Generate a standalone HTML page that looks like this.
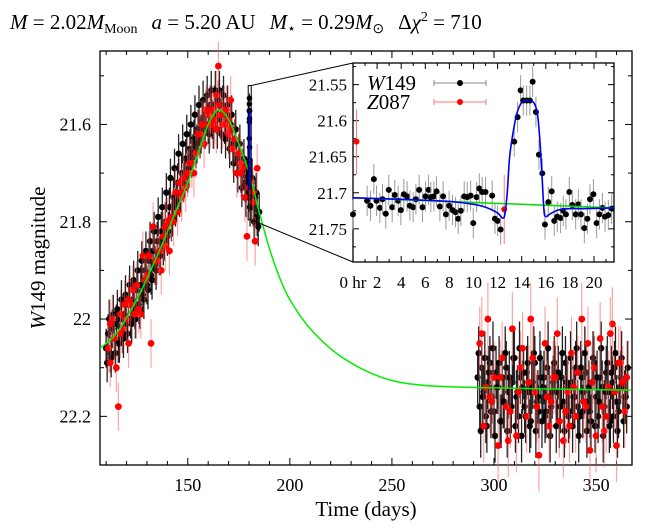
<!DOCTYPE html>
<html><head><meta charset="utf-8"><style>
body{margin:0;background:#fff;}
svg{display:block;font-family:"Liberation Serif",serif;}
</style></head><body>
<svg id="chart" width="666" height="528" viewBox="0 0 666 528">
<text x="10" y="29" font-size="21"><tspan font-style="italic">M</tspan> = 2.02<tspan font-style="italic">M</tspan><tspan font-size="14" dy="4">Moon</tspan><tspan dy="-4" dx="14" font-style="italic">a</tspan> = 5.20 AU<tspan dx="14" font-style="italic">M</tspan><tspan font-size="14" dy="4">⋆</tspan><tspan dy="-4"> = 0.29</tspan><tspan font-style="italic">M</tspan><tspan font-size="14" dy="4">⊙</tspan><tspan dy="-4" dx="14">Δ</tspan><tspan font-style="italic">χ</tspan><tspan font-size="14" dy="-8">2</tspan><tspan dy="8"> = 710</tspan></text>
<text x="366" y="516" font-size="21" text-anchor="middle">Time (days)</text>
<text transform="translate(45,258) rotate(-90)" font-size="21" text-anchor="middle"><tspan font-style="italic">W</tspan>149 magnitude</text>
<g id="main"></g>
<g id="inset"></g>
</svg>
<script>
// ===== main panel data =====
const riseT=[110,111,112,113,114,115,116,117,118,119,120,121,122,123,124,125,126,127,128,129,130,131,132,133,134,135,136,137,138,139,140,141,142,143,144,145,146,147,148,149,150,151,152,153,154,155,156,157,158,159,160,161,162,163,164,165,166,167,168,169,170,171,172,173,174,175,176,177,178,179,180,181,182,183,184,185];
const riseM=[22.06,22.03,22.07,22.02,22.04,22.01,22.05,22.00,22.03,21.99,22.01,21.97,22.00,21.96,21.98,21.94,21.97,21.93,21.95,21.90,21.93,21.88,21.91,21.86,21.89,21.84,21.87,21.82,21.85,21.80,21.83,21.77,21.80,21.75,21.77,21.72,21.75,21.70,21.72,21.67,21.70,21.65,21.67,21.63,21.65,21.61,21.63,21.59,21.61,21.57,21.60,21.56,21.59,21.56,21.58,21.55,21.59,21.56,21.60,21.58,21.62,21.60,21.64,21.63,21.67,21.66,21.70,21.69,21.72,21.71,21.74,21.73,21.77,21.75,21.79,21.78];
const rise2T=[110.5,111.5,112.5,113.5,114.5,115.5,116.5,117.5,118.5,119.5,120.5,121.5,122.5,123.5,124.5,125.5,126.5,127.5,128.5,129.5,130.5,131.5,132.5,133.5,134.5,135.5,136.5,137.5,138.5,139.5,140.5,141.5,142.5,143.5,144.5,145.5,146.5,147.5,148.5,149.5,150.5,151.5,152.5,153.5,154.5,155.5,156.5,157.5,158.5,159.5,160.5,161.5,162.5,163.5,164.5,165.5,166.5,167.5,168.5,169.5,170.5,171.5,172.5,173.5,174.5,175.5,176.5,177.5,178.5,179.5,180.5,181.5,182.5,183.5,184.5];
const rise2M=[22.09,22.00,22.08,21.99,22.07,21.98,22.05,21.96,22.04,21.95,22.03,21.93,22.01,21.92,22.00,21.90,21.98,21.88,21.96,21.86,21.94,21.84,21.92,21.82,21.90,21.79,21.87,21.77,21.84,21.74,21.82,21.71,21.79,21.69,21.76,21.66,21.74,21.64,21.71,21.62,21.69,21.60,21.66,21.58,21.64,21.56,21.62,21.55,21.61,21.54,21.62,21.53,21.61,21.53,21.61,21.53,21.62,21.54,21.63,21.56,21.65,21.58,21.68,21.61,21.70,21.64,21.73,21.67,21.75,21.69,21.77,21.71,21.80,21.74,21.81];
const redT=[111,112,113,115,116,118,120,121,123,125,127,128,130,132,133,135,137,139,141,143,145,147,149,150,152,154,156,158,160,161,162,163,164,165,166,167,168,169,170,171,172,174,176,178,179,181,182,183,184,126,144,153,175,157];
const redM=[22.06,22.09,22.00,22.10,22.18,22.02,22.00,22.05,21.94,21.93,21.99,21.87,21.91,22.05,21.81,21.88,21.90,21.85,21.86,21.80,21.78,21.75,21.73,21.70,21.68,21.66,21.62,21.64,21.58,21.60,21.57,21.60,21.54,21.48,21.58,21.60,21.57,21.60,21.62,21.55,21.65,21.70,21.68,21.75,21.83,21.72,21.76,21.84,21.69,21.98,21.74,21.70,21.66,21.60];
const red2T=[112,114,117,119,122,124,129,131,134,136,138,140,142,146,148,151,155,159,161,163,165,167,169,171,173,177,180,182,117,121,139,147,158,164,170,176];
const red2M=[22.01,22.04,21.99,21.97,21.97,21.99,21.92,21.87,21.88,21.86,21.83,21.80,21.79,21.72,21.71,21.68,21.62,21.57,21.57,21.59,21.56,21.58,21.57,21.61,21.63,21.69,21.73,21.74,22.03,21.96,21.81,21.74,21.60,21.61,21.59,21.70];
const lateT=[292,293,294,295,296,297,298,299,300,301,302,303,304,305,306,307,308,309,310,311,312,313,314,315,316,317,318,319,320,321,322,323,324,325,326,327,328,329,330,331,332,333,334,335,336,337,338,339,340,341,342,343,344,345,346,347,348,349,350,351,352,353,354,355,356,357,358,359,360,361,362,363,364,365];
const lateM=[22.12,22.18,22.10,22.15,22.20,22.13,22.09,22.16,22.19,22.11,22.14,22.21,22.12,22.17,22.10,22.15,22.19,22.13,22.08,22.16,22.20,22.12,22.14,22.18,22.11,22.15,22.21,22.13,22.09,22.17,22.19,22.12,22.14,22.20,22.10,22.16,22.18,22.13,22.11,22.15,22.21,22.12,22.17,22.09,22.14,22.19,22.13,22.16,22.10,22.18,22.20,22.12,22.15,22.11,22.17,22.19,22.13,22.09,22.16,22.20,22.12,22.14,22.18,22.11,22.15,22.21,22.13,22.10,22.17,22.19,22.12,22.14,22.16,22.18];
const late2T=[292.5,293.5,294.5,295.5,296.5,297.5,298.5,299.5,300.5,301.5,302.5,303.5,304.5,305.5,306.5,307.5,308.5,309.5,310.5,311.5,312.5,313.5,314.5,315.5,316.5,317.5,318.5,319.5,320.5,321.5,322.5,323.5,324.5,325.5,326.5,327.5,328.5,329.5,330.5,331.5,332.5,333.5,334.5,335.5,336.5,337.5,338.5,339.5,340.5,341.5,342.5,343.5,344.5,345.5,346.5,347.5,348.5,349.5,350.5,351.5,352.5,353.5,354.5,355.5,356.5,357.5,358.5,359.5,360.5,361.5,362.5,363.5,364.5,365.5];
const late2M=[22.07,22.23,22.16,22.08,22.22,22.11,22.19,22.06,22.24,22.14,22.09,22.21,22.17,22.07,22.23,22.12,22.18,22.08,22.22,22.15,22.06,22.24,22.11,22.20,22.09,22.22,22.14,22.07,22.23,22.16,22.08,22.21,22.12,22.19,22.06,22.24,22.15,22.09,22.22,22.11,22.18,22.07,22.23,22.13,22.20,22.08,22.22,22.16,22.06,22.24,22.10,22.19,22.07,22.23,22.14,22.21,22.08,22.22,22.12,22.17,22.06,22.24,22.15,22.09,22.22,22.11,22.20,22.07,22.23,22.14,22.08,22.21,22.16,22.10];
const lateRedT=[293,295,297,300,302,304,306,309,311,313,316,318,320,322,325,327,329,331,334,336,338,340,343,345,347,349,352,354,356,358,360,362,364,298,314,332,341,350,357,363,294,307,319,328,337,346,355,361];
const lateRedM=[22.05,22.22,22.00,22.12,22.26,22.08,22.18,22.02,22.24,22.10,22.20,22.00,22.15,22.28,22.05,22.22,22.12,22.03,22.25,22.15,22.07,22.20,22.00,22.18,22.27,22.10,22.04,22.23,22.14,22.01,22.26,22.09,22.19,22.16,22.06,22.21,22.11,22.24,22.03,22.13,22.03,22.25,22.08,22.17,22.22,22.05,22.20,22.09];
const lateRed2T=[296,299,303,308,312,317,321,326,330,335,339,344,348,353,359,365];
const lateRed2M=[22.14,22.17,22.12,22.19,22.15,22.13,22.18,22.16,22.12,22.19,22.14,22.17,22.13,22.18,22.15,22.12];
const modelT=[107,115,125,135,145,150,155,160,165,170,175,180,185,190,195,200,210,225,245,265,295,330,367];
const modelM=[22.06,22.03,21.96,21.87,21.77,21.72,21.66,21.60,21.57,21.59,21.64,21.70,21.78,21.855,21.915,21.96,22.02,22.077,22.12,22.136,22.141,22.144,22.146];
const xTicks=[150,200,250,300,350];
const yTicks=[21.6,21.8,22,22.2];
const yTickLabels=["21.6","21.8","22","22.2"];
// ===== inset data (hours) =====
const inHr=[0.0,1.17,1.45,1.73,1.95,2.23,2.45,2.72,2.97,3.25,3.47,3.75,3.97,4.22,4.49,4.72,4.99,5.22,5.49,5.77,6.02,6.27,6.46,6.71,6.93,7.21,7.48,7.71,7.98,8.26,8.51,8.73,8.95,9.23,9.48,9.76,9.98,10.26,10.48,10.72,11.0,11.55,11.78,12.0,12.25,13.38,13.66,13.91,14.13,14.41,14.68,14.91,15.18,15.43,15.71,15.93,16.21,16.49,16.7,16.95,17.23,17.45,17.67,17.95,18.2,18.48,18.7,18.92,19.2,19.45,19.67,19.95,20.22,20.45,20.7,20.92,21.19,21.47];
const inMag=[21.730,21.711,21.718,21.681,21.711,21.721,21.709,21.729,21.696,21.720,21.703,21.711,21.724,21.702,21.705,21.718,21.720,21.709,21.696,21.720,21.705,21.696,21.706,21.705,21.698,21.719,21.705,21.730,21.718,21.724,21.727,21.736,21.725,21.705,21.706,21.704,21.742,21.706,21.694,21.699,21.699,21.704,21.736,21.739,21.751,21.629,21.595,21.558,21.572,21.572,21.572,21.546,21.588,21.647,21.673,21.744,21.713,21.698,21.739,21.733,21.735,21.725,21.730,21.699,21.717,21.730,21.716,21.730,21.749,21.736,21.709,21.702,21.742,21.730,21.721,21.733,21.731,21.722];
const inRedHr=[0.29,12.55];
const inRedMag=[21.629,21.723];
const inRedErr=[0.045,0.048];
const blueHr=[0,4,8,10,11,12,12.4,12.6,12.8,13.0,13.3,13.6,14.0,14.5,15.0,15.3,15.5,15.7,15.85,16.0,16.3,17,18,19,21.66];
const blueMag=[21.707,21.709,21.712,21.716,21.72,21.728,21.735,21.73,21.70,21.65,21.615,21.59,21.575,21.572,21.575,21.59,21.625,21.68,21.725,21.733,21.73,21.724,21.722,21.722,21.721];
const greenHr=[0,21.66];
const greenMag=[21.707,21.721];
const inXTicks=[0,2,4,6,8,10,12,14,16,18,20];
const inXLabels=["0 hr","2","4","6","8","10","12","14","16","18","20"];
const inYTicks=[21.55,21.6,21.65,21.7,21.75];
const inYLabels=["21.55","21.6","21.65","21.7","21.75"];
const T0=179.6;

const NS="http://www.w3.org/2000/svg";
function mk(tag,attrs,parent){const e=document.createElementNS(NS,tag);for(const k in attrs)e.setAttribute(k,attrs[k]);parent.appendChild(e);return e;}
const L=100,R=632,T=51,B=465,X0=107,X1=367.6,Y0=21.449,Y1=22.30;
const sx=t=>L+(t-X0)/(X1-X0)*(R-L);
const sy=m=>T+(m-Y0)/(Y1-Y0)*(B-T);
const main=document.getElementById('main');
function pts(ts,ms,fx,fy){return ts.map((t,i)=>fx(t).toFixed(1)+','+fy(ms[i]).toFixed(1)).join(' ');}
function smooth(ts,ms,fx,fy){const p=ts.map((t,i)=>[fx(t),fy(ms[i])]);let d='M'+p[0][0]+','+p[0][1];
  for(let i=0;i<p.length-1;i++){const p0=p[Math.max(0,i-1)],p1=p[i],p2=p[i+1],p3=p[Math.min(p.length-1,i+2)];
    const c1=[p1[0]+(p2[0]-p0[0])/6,p1[1]+(p2[1]-p0[1])/6],c2=[p2[0]-(p3[0]-p1[0])/6,p2[1]-(p3[1]-p1[1])/6];
    d+=' C'+c1.join(',')+' '+c2.join(',')+' '+p2.join(',');}
  return d;}
function scatter(g,ts,ms,err,col,ecol,r,name,fx,fy,ew){
  const n=Math.min(ts.length,ms.length);
  for(let i=0;i<n;i++){const t=ts[i];
    const x=fx(t),y=fy(ms[i]);const e=Array.isArray(err)?err[i]:err;
    const l=mk('line',{x1:x,x2:x,y1:fy(ms[i]-e),y2:fy(ms[i]+e),stroke:ecol,'stroke-width':ew||1},g);
    
    
    const c=mk('circle',{cx:x,cy:y,r:r,fill:col},g);
    
    
  }
}
const frame=mk('rect',{x:L,y:T,width:R-L,height:B-T,fill:'none',stroke:'#000','stroke-width':1.3},main);


for(let t=110;t<=360;t+=10){const major=t%50===0;const len=major?7:4;
  mk('line',{x1:sx(t),x2:sx(t),y1:B,y2:B-len,stroke:'#000'},main);
  mk('line',{x1:sx(t),x2:sx(t),y1:T,y2:T+len,stroke:'#000'},main);}
xTicks.forEach(t=>{const tx=mk('text',{x:sx(t),y:491,'font-size':18,'text-anchor':'middle'},main);tx.textContent=t;
  
  });
for(let k=0;k<8;k++){const m=21.5+k*0.1;const major=k%2===1;const len=major?7:4;
  mk('line',{x1:L,x2:L+len,y1:sy(m),y2:sy(m),stroke:'#000'},main);
  mk('line',{x1:R,x2:R-len,y1:sy(m),y2:sy(m),stroke:'#000'},main);}
yTicks.forEach((m,i)=>{const tx=mk('text',{x:91,y:sy(m)+6,'font-size':18,'text-anchor':'end'},main);tx.textContent=yTickLabels[i];
  
  });
const dg=mk('g',{},main);


scatter(dg,riseT,riseM,0.04,'#000','#222',3.2,'w149-rise',sx,sy,1.3);
scatter(dg,rise2T,rise2M,0.04,'#000','#222',3.2,'w149-rise',sx,sy,1.3);
scatter(dg,lateT,lateM,0.055,'#000','#222',3.2,'w149-late',sx,sy,1.3);
scatter(dg,late2T,late2M,0.055,'#000','#222',3.2,'w149-late',sx,sy,1.3);
scatter(dg,inHr.map(h=>T0+h/24),inMag,0.01,'#000','#333',2.8,'w149-anomaly',sx,sy);
scatter(dg,redT,redM,0.05,'#f00','rgba(255,90,90,0.55)',3.4,'z087-rise',sx,sy,1.2);
scatter(dg,red2T,red2M,0.05,'#f00','rgba(255,90,90,0.55)',3.4,'z087-rise',sx,sy,1.2);
scatter(dg,lateRedT,lateRedM,0.075,'#f00','rgba(255,90,90,0.55)',3.4,'z087-late',sx,sy,1.2);
scatter(dg,lateRed2T,lateRed2M,0.075,'#f00','rgba(255,90,90,0.55)',3.4,'z087-late',sx,sy,1.2);
const gm=mk('path',{d:smooth(modelT,modelM,sx,sy),fill:'none',stroke:'#00ee00','stroke-width':1.5},main);


const bm=mk('polyline',{points:pts(blueHr.map(h=>T0+h/24),blueMag,sx,sy),fill:'none',stroke:'#0000ee','stroke-width':2},main);


// inset
const IL=353,IR=614,IT=63,IB=262,H0=0,H1=21.66,M0=21.52,M1=21.796;
const ix=h=>IL+(h-H0)/(H1-H0)*(IR-IL);
const iy=m=>IT+(m-M0)/(M1-M0)*(IB-IT);
const ins=document.getElementById('inset');
const zr=mk('rect',{x:sx(T0),y:sy(21.52),width:Math.max(3,sx(T0+H1/24)-sx(T0)),height:sy(21.796)-sy(21.52),fill:'none',stroke:'#000','stroke-width':1},ins);


const zl1=mk('line',{x1:sx(T0)+3,y1:sy(21.52),x2:IL,y2:IT,stroke:'#000'},ins);


const zl2=mk('line',{x1:sx(T0)+3,y1:sy(21.796),x2:IL,y2:IB,stroke:'#000'},ins);


const ibg=mk('rect',{x:IL,y:IT,width:IR-IL,height:IB-IT,fill:'#fff',stroke:'#000','stroke-width':1.3},ins);


for(let h=1;h<=21;h++){const len=h%2===0?6:3;
  mk('line',{x1:ix(h),x2:ix(h),y1:IB,y2:IB-len,stroke:'#000'},ins);
  mk('line',{x1:ix(h),x2:ix(h),y1:IT,y2:IT+len,stroke:'#000'},ins);}
inXTicks.forEach((h,i)=>{const tx=mk('text',{x:ix(h),y:288,'font-size':17,'text-anchor':'middle'},ins);tx.textContent=inXLabels[i];
  
  });
for(let k=0;k<11;k++){const m=21.525+k*0.025;if(m>M1)break;const len=k%2===1?6:3;
  mk('line',{x1:IL,x2:IL+len,y1:iy(m),y2:iy(m),stroke:'#000'},ins);
  mk('line',{x1:IR,x2:IR-len,y1:iy(m),y2:iy(m),stroke:'#000'},ins);}
inYTicks.forEach((m,i)=>{const tx=mk('text',{x:347,y:iy(m)+6,'font-size':17,'text-anchor':'end'},ins);tx.textContent=inYLabels[i];
  
  });
const ig=mk('g',{},ins);


scatter(ig,inHr,inMag,0.021,'#000','#999',3,'inset-w149',ix,iy);
scatter(ig,inRedHr,inRedMag,inRedErr,'#f00','#f77',3,'inset-z087',ix,iy);
const ig2=mk('polyline',{points:pts(greenHr,greenMag,ix,iy),fill:'none',stroke:'#00dd00','stroke-width':1.5},ins);


const ib2=mk('path',{d:smooth(blueHr,blueMag,ix,iy),fill:'none',stroke:'#0000ee','stroke-width':1.6},ins);


// legend
const lg=mk('g',{},ins);


[['W149','#000','#888',83],['Z087','#f00','#f77',102]].forEach(([lab,c,ec,y])=>{
  const tx=mk('text',{x:367,y:y+7,'font-size':21},lg);
  tx.innerHTML='<tspan font-style="italic">'+lab[0]+'</tspan>'+lab.slice(1);
  
  
  mk('line',{x1:434,x2:486,y1:y,y2:y,stroke:ec},lg);
  mk('line',{x1:434,x2:434,y1:y-3,y2:y+3,stroke:ec},lg);
  mk('line',{x1:486,x2:486,y1:y-3,y2:y+3,stroke:ec},lg);
  const c1=mk('circle',{cx:460,cy:y,r:3,fill:c},lg);
  
  
});
</script>
</body></html>
